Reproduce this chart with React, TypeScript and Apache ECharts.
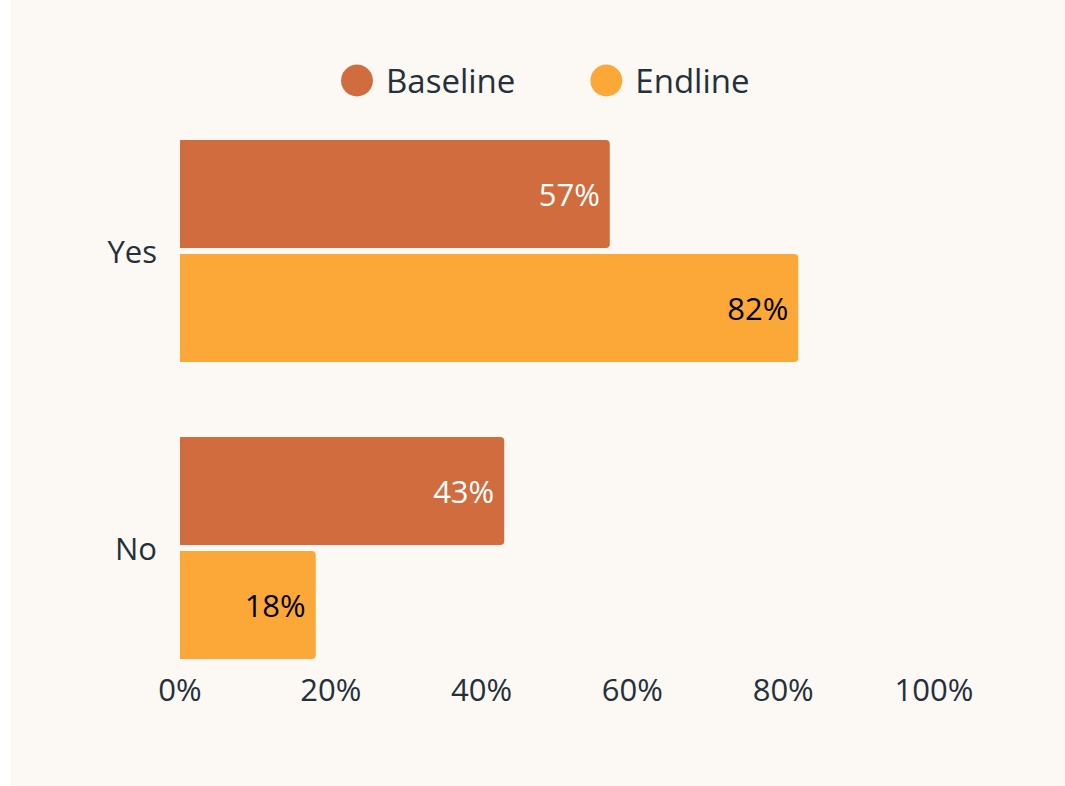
import React, { useEffect, useRef } from "react";
import * as echarts from "echarts";

const categories = ["Yes", "No"];
const baseline = [57, 43];
const endline = [82, 18];
const seriesNames = ["Baseline", "Endline"];

const FONT = "'Open Sans', 'Noto Sans', sans-serif";
const TEXT = "#24303A";

export default function App() {
  const ref = useRef<HTMLDivElement>(null);

  useEffect(() => {
    if (!ref.current) return;
    const chart = echarts.init(ref.current, null, { renderer: "svg" });
    chart.setOption({
      animation: false,
      backgroundColor: "#FCF8F3",
      textStyle: { fontFamily: FONT },
      legend: {
        left: 325,
        top: 59,
        icon: "circle",
        itemWidth: 32,
        itemHeight: 32,
        itemGap: 75,
        textStyle: {
          fontFamily: FONT,
          fontSize: 33,
          color: TEXT,
          padding: [0, 0, 0, 8],
        },
        data: seriesNames,
      },
      grid: { left: 169, right: 131, top: 102.5, bottom: 89.5, containLabel: false },
      xAxis: {
        type: "value",
        min: 0,
        max: 100,
        interval: 20,
        axisLine: { show: false },
        axisTick: { show: false },
        splitLine: { show: false },
        axisLabel: {
          formatter: "{value}%",
          fontFamily: FONT,
          fontSize: 31,
          color: TEXT,
          verticalAlign: "middle",
          margin: -8,
        },
      },
      yAxis: {
        type: "category",
        inverse: true,
        data: categories,
        axisLine: { show: false },
        axisTick: { show: false },
        axisLabel: {
          fontFamily: FONT,
          fontSize: 31,
          color: TEXT,
          margin: 23,
        },
      },
      series: [
        {
          name: seriesNames[0],
          type: "bar",
          data: baseline,
          barWidth: 108,
          barGap: "5.6%",
          itemStyle: { color: "#D06C3D", borderRadius: [0, 4, 4, 0] },
          label: {
            show: true,
            position: "insideRight",
            distance: 10,
            formatter: "{c}%",
            fontFamily: FONT,
            fontSize: 31,
            color: "#FFFFFF",
          },
        },
        {
          name: seriesNames[1],
          type: "bar",
          data: endline,
          barWidth: 108,
          barGap: "5.6%",
          itemStyle: { color: "#FCA838", borderRadius: [0, 4, 4, 0] },
          label: {
            show: true,
            position: "insideRight",
            distance: 10,
            formatter: "{c}%",
            fontFamily: FONT,
            fontSize: 31,
            color: "#000000",
          },
        },
      ],
    });
    return () => chart.dispose();
  }, []);

  return (
    <div
      ref={ref}
      style={{ position: "absolute", left: 11, top: 0, width: 1054, height: 786 }}
    />
  );
}
